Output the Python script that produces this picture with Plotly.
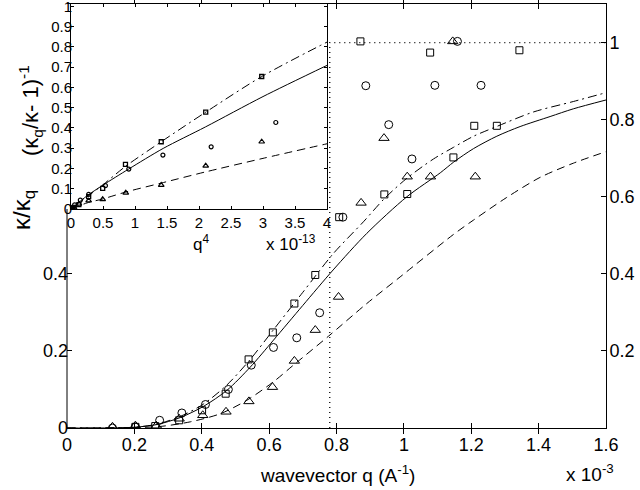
import plotly.graph_objects as go

# ---------------- data (main panel, q in units of 1e-3 A^-1) ----------------
sq_q = [0.203, 0.262, 0.333, 0.401, 0.471, 0.539, 0.611, 0.675, 0.737, 0.808, 0.871, 0.942, 1.010, 1.078, 1.147, 1.209, 1.276, 1.343]
sq_y = [0.003, 0.005, 0.020, 0.046, 0.089, 0.178, 0.248, 0.323, 0.397, 0.547, 1.003, 0.606, 0.607, 0.974, 0.702, 0.784, 0.784, 0.980]

ci_q = [0.135, 0.203, 0.275, 0.341, 0.411, 0.479, 0.547, 0.613, 0.682, 0.750, 0.819, 0.887, 0.955, 1.024, 1.092, 1.159, 1.229]
ci_y = [0.000, 0.003, 0.020, 0.039, 0.061, 0.100, 0.163, 0.209, 0.234, 0.299, 0.547, 0.888, 0.787, 0.698, 0.889, 1.003, 0.889]

tr_q = [0.135, 0.203, 0.265, 0.333, 0.403, 0.472, 0.540, 0.610, 0.675, 0.737, 0.806, 0.873, 0.941, 1.010, 1.079, 1.145, 1.212]
tr_y = [0.003, 0.006, 0.006, 0.024, 0.033, 0.042, 0.069, 0.106, 0.174, 0.254, 0.340, 0.584, 0.752, 0.652, 0.652, 1.003, 0.652]

solid_q = [0, 0.1, 0.2, 0.267, 0.336, 0.405, 0.475, 0.544, 0.613, 0.70, 0.79, 0.89, 1.009, 1.108, 1.148, 1.207, 1.276, 1.345, 1.434, 1.503, 1.6]
solid_y = [0, 0, 0.002, 0.009, 0.027, 0.056, 0.098, 0.158, 0.228, 0.318, 0.41, 0.505, 0.600, 0.662, 0.690, 0.725, 0.757, 0.782, 0.808, 0.828, 0.851]

dd_q = [0, 0.2, 0.267, 0.336, 0.405, 0.475, 0.544, 0.613, 0.70, 0.79, 0.88, 0.942, 1.009, 1.088, 1.147, 1.207, 1.275, 1.385, 1.503, 1.6]
dd_y = [0, 0.002, 0.010, 0.030, 0.062, 0.112, 0.178, 0.255, 0.352, 0.452, 0.535, 0.595, 0.648, 0.698, 0.728, 0.757, 0.782, 0.820, 0.847, 0.870]

da_q = [0, 0.2, 0.277, 0.366, 0.455, 0.534, 0.613, 0.672, 0.776, 0.89, 0.989, 1.147, 1.206, 1.305, 1.404, 1.503, 1.6]
da_y = [0, 0.001, 0.004, 0.016, 0.037, 0.072, 0.120, 0.163, 0.238, 0.323, 0.392, 0.502, 0.539, 0.598, 0.650, 0.687, 0.717]

q_cut = 0.78      # vertical dotted marker
y_sat = 1.0       # horizontal dotted level
q_max = 1.6

x_ticks = [0, 0.2, 0.4, 0.6, 0.8, 1.0, 1.2, 1.4, 1.6]
x_ticktext = ["0", "0.2", "0.4", "0.6", "0.8", "1", "1.2", "1.4", "1.6"]
yl_ticks = [0, 0.2, 0.4]
yl_ticktext = ["0", "0.2", "0.4"]
yr_ticks = [0.2, 0.4, 0.6, 0.8, 1.0]
yr_ticktext = ["0.2", "0.4", "0.6", "0.8", "1"]

# ---------------- data (inset, x = q^4 in units of 1e-13) ----------------
isq_x = [0.017, 0.047, 0.123, 0.276, 0.495, 0.851, 1.41, 2.105, 2.98]
isq_y = [0.003, 0.006, 0.022, 0.061, 0.102, 0.220, 0.332, 0.478, 0.654]
ici_x = [0.003, 0.017, 0.057, 0.146, 0.276, 0.538, 0.903, 1.436, 2.19, 3.2]
ici_y = [0.000, 0.003, 0.020, 0.044, 0.072, 0.115, 0.197, 0.266, 0.307, 0.427]
itr_x = [0.003, 0.017, 0.048, 0.123, 0.276, 0.495, 0.856, 1.41, 2.105, 2.98]
itr_y = [0.003, 0.006, 0.006, 0.025, 0.041, 0.048, 0.080, 0.118, 0.213, 0.332]

is_x = [0, 0.25, 0.5, 0.9, 1.44, 2.1, 3.0, 4.0]
is_y = [0, 0.065, 0.118, 0.197, 0.299, 0.405, 0.555, 0.709]
idd_x = [0, 0.25, 0.5, 0.85, 1.41, 2.105, 2.98, 4.0]
idd_y = [0, 0.06, 0.12, 0.21, 0.332, 0.478, 0.654, 0.824]
ida_x = [0, 0.25, 0.5, 0.87, 1.41, 2.1, 3.0, 4.0]
ida_y = [0, 0.03, 0.05, 0.085, 0.128, 0.183, 0.25, 0.322]

ix_ticks = [0, 0.5, 1, 1.5, 2, 2.5, 3, 3.5, 4]
ix_ticktext = ["0", "0.5", "1", "1.5", "2", "2.5", "3", "3.5", "4"]
iy_ticks = [0, 0.1, 0.2, 0.3, 0.4, 0.5, 0.6, 0.7, 0.8, 0.9, 1.0]
iy_ticktext = ["0", "0.1", "0.2", "0.3", "0.4", "0.5", "0.6", "0.7", "0.8", "0.9", "1"]

FONT = "Liberation Sans, Arial, sans-serif"
K = "black"

fig = go.Figure()

def line(x, y, dash, xa="x", ya="y"):
    fig.add_trace(go.Scatter(x=x, y=y, mode="lines", line=dict(color=K, width=1, dash=dash, shape="spline", smoothing=0.8),
                             xaxis=xa, yaxis=ya, hoverinfo="skip", showlegend=False))

def marks(x, y, sym, size, xa="x", ya="y", lw=1):
    fig.add_trace(go.Scatter(x=x, y=y, mode="markers",
                             marker=dict(symbol=sym, size=size, color=K, line=dict(color=K, width=lw)),
                             xaxis=xa, yaxis=ya, showlegend=False))

# main panel
line(solid_q, solid_y, "solid")
line(dd_q, dd_y, "9px,4px,2px,4px")
line(da_q, da_y, "8px,5px")
marks(sq_q, sq_y, "square-open", 7)
marks(ci_q, ci_y, "circle-open", 8)
marks(tr_q, tr_y, "triangle-up-open", 9)

# dotted guide lines (on right-hand axis overlay)
fig.add_trace(go.Scatter(x=[q_cut, q_cut, q_max], y=[0, y_sat, y_sat], mode="lines",
                         line=dict(color=K, width=1.3, dash="1px,4px"),
                         xaxis="x", yaxis="y3", hoverinfo="skip", showlegend=False))

# inset
line(is_x, is_y, "solid", "x2", "y2")
line(idd_x, idd_y, "9px,4px,2px,4px", "x2", "y2")
line(ida_x, ida_y, "8px,5px", "x2", "y2")
marks(isq_x, isq_y, "square-open", 4, "x2", "y2", 1.3)
marks(ici_x, ici_y, "circle-open", 4, "x2", "y2", 1.2)
marks(itr_x, itr_y, "triangle-up-open", 5, "x2", "y2", 1.2)

L, R, T, B = 67, 34, 4, 62
W, H = 640, 490
pw, ph = W - L - R, H - T - B
def px(xp):
    return (xp - L) / pw
def py(yp):
    return (H - B - yp) / ph

axcommon = dict(showgrid=False, zeroline=False, ticks="inside", tickcolor=K, linecolor=K, linewidth=1,
                automargin=False, ticklabeloverflow="allow", tickfont=dict(family=FONT, size=18, color=K))
inset_font = dict(family=FONT, size=15, color=K)

fig.update_layout(
    width=W, height=H, margin=dict(l=L, r=R, t=T, b=B),
    paper_bgcolor="white", plot_bgcolor="white",
    font=dict(family=FONT, color=K),
    xaxis=dict(axcommon, domain=[0, 1], range=[0, q_max], tickvals=x_ticks, ticktext=x_ticktext,
               ticklen=5, showline=True, mirror="allticks", anchor="y"),
    yaxis=dict(axcommon, domain=[0, 1], range=[0, 1.1], tickvals=yl_ticks, ticktext=yl_ticktext,
               ticklen=5, showline=False, anchor="x", ticklabelstandoff=-2),
    yaxis3=dict(axcommon, domain=[0, 1], range=[0, 1.1], tickvals=yr_ticks, ticktext=yr_ticktext,
                ticklen=5, showline=True, side="right", overlaying="y", anchor="x", ticklabelstandoff=-1),
    xaxis2=dict(axcommon, domain=[px(71), px(327)], range=[0, 4], tickvals=ix_ticks, ticktext=ix_ticktext,
                ticklen=3, showline=True, mirror="allticks", anchor="y2", tickfont=inset_font),
    yaxis2=dict(axcommon, domain=[py(209), 1.0], range=[0, 1.012], tickvals=iy_ticks, ticktext=iy_ticktext,
                ticklen=3, showline=True, mirror="allticks", anchor="x2", tickfont=inset_font,
                ticklabelstandoff=-5),
)

# left main axis line only below the inset
fig.add_shape(type="line", xref="paper", yref="paper", x0=0, x1=0, y0=0, y1=py(209),
              line=dict(color=K, width=1))

ann = [
    dict(x=px(337), y=py(474), text="wavevector q (A<sup>-1</sup>)", size=19, angle=0),
    dict(x=px(590), y=py(473), text="x 10<sup>-3</sup>", size=19, angle=0),
    dict(x=px(24), y=py(210), text="κ/κ<sub>q</sub>", size=24, angle=-90),
    dict(x=px(30), y=py(111), text="(κ<sub>q</sub>/κ- 1)<sup>-1</sup>", size=22, angle=-90),
    dict(x=px(201), y=py(243), text="q<sup>4</sup>", size=17, angle=0),
    dict(x=px(291), y=py(243), text="x 10<sup>-13</sup>", size=17, angle=0),
]
for a in ann:
    fig.add_annotation(x=a["x"], y=a["y"], xref="paper", yref="paper", text=a["text"], showarrow=False,
                       textangle=a["angle"], font=dict(family=FONT, size=a["size"], color=K),
                       xanchor="center", yanchor="middle")

fig.write_html("out.html", config={"displayModeBar": False},
               post_script="document.body.style.margin='0px';document.body.style.padding='0px';")
